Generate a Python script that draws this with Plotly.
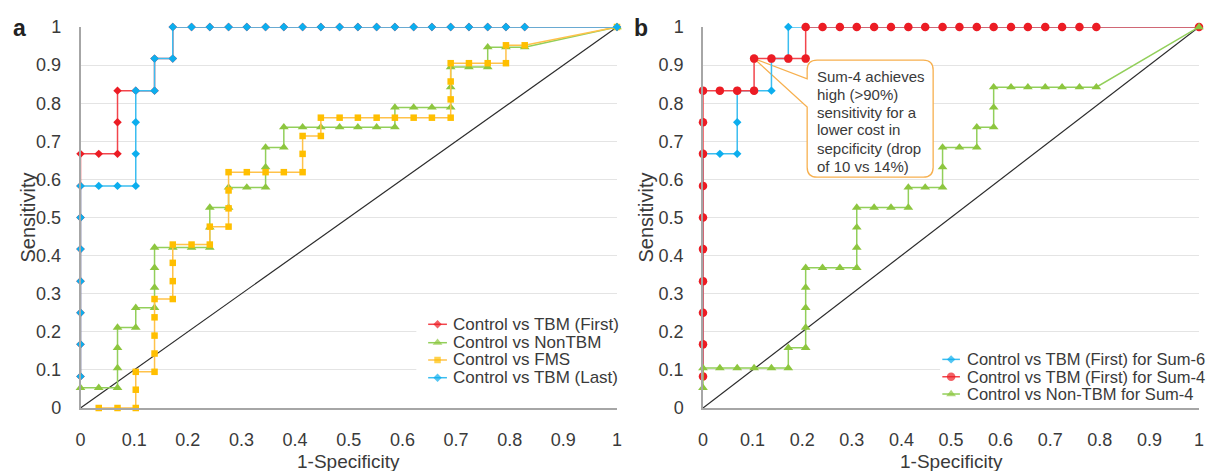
import plotly.graph_objects as go

# ---------------- Panel a: ROC curves (1-Specificity vs Sensitivity) ----------------
a_tbm_first_x = [0, 0, 0, 0, 0, 0, 0, 0, 0.034, 0.069, 0.069, 0.069, 0.103, 0.138, 0.138,
                 0.172, 0.172, 0.207, 0.241, 0.276, 0.310, 0.345, 0.379, 0.414, 0.448, 0.483,
                 0.517, 0.552, 0.586, 0.621, 0.655, 0.690, 0.724, 0.759, 0.793, 0.828, 1]
a_tbm_first_y = [0.083, 0.167, 0.25, 0.333, 0.417, 0.5, 0.583, 0.667, 0.667, 0.667, 0.75, 0.833,
                 0.833, 0.833, 0.917, 0.917, 1, 1, 1, 1, 1, 1, 1, 1, 1, 1,
                 1, 1, 1, 1, 1, 1, 1, 1, 1, 1, 1]

a_nontbm_x = [0, 0.034, 0.069, 0.069, 0.069, 0.069, 0.103, 0.103, 0.138, 0.138, 0.138, 0.138,
              0.172, 0.207, 0.241, 0.241, 0.241, 0.276, 0.276, 0.310, 0.345, 0.345, 0.345,
              0.379, 0.379, 0.414, 0.448, 0.483, 0.517, 0.552, 0.586, 0.586, 0.621, 0.655,
              0.690, 0.690, 0.690, 0.724, 0.759, 0.759, 0.793, 0.828, 1]
a_nontbm_y = [0.053, 0.053, 0.053, 0.105, 0.158, 0.211, 0.211, 0.263, 0.263, 0.316, 0.368, 0.421,
              0.421, 0.421, 0.421, 0.474, 0.526, 0.526, 0.579, 0.579, 0.579, 0.632, 0.684,
              0.684, 0.737, 0.737, 0.737, 0.737, 0.737, 0.737, 0.737, 0.789, 0.789, 0.789,
              0.789, 0.842, 0.895, 0.895, 0.895, 0.947, 0.947, 0.947, 1]

a_fms_x = [0.034, 0.069, 0.103, 0.103, 0.103, 0.138, 0.138, 0.138, 0.138, 0.138, 0.172, 0.172,
           0.172, 0.172, 0.207, 0.241, 0.241, 0.276, 0.276, 0.276, 0.276, 0.310, 0.345, 0.379,
           0.414, 0.414, 0.414, 0.448, 0.448, 0.483, 0.517, 0.552, 0.586, 0.621, 0.655, 0.690,
           0.690, 0.690, 0.690, 0.724, 0.759, 0.793, 0.793, 0.828, 1]
a_fms_y = [0, 0, 0, 0.048, 0.095, 0.095, 0.143, 0.190, 0.238, 0.286, 0.286, 0.333,
           0.381, 0.429, 0.429, 0.429, 0.476, 0.476, 0.524, 0.571, 0.619, 0.619, 0.619, 0.619,
           0.619, 0.667, 0.714, 0.714, 0.762, 0.762, 0.762, 0.762, 0.762, 0.762, 0.762, 0.762,
           0.810, 0.857, 0.905, 0.905, 0.905, 0.905, 0.952, 0.952, 1]

a_tbm_last_x = [0, 0, 0, 0, 0, 0, 0, 0.034, 0.069, 0.103, 0.103, 0.103, 0.103, 0.138, 0.138,
                0.172, 0.172, 0.207, 0.241, 0.276, 0.310, 0.345, 0.379, 0.414, 0.448, 0.483,
                0.517, 0.552, 0.586, 0.621, 0.655, 0.690, 0.724, 0.759, 0.793, 0.828, 1]
a_tbm_last_y = [0.083, 0.167, 0.25, 0.333, 0.417, 0.5, 0.583, 0.583, 0.583, 0.583, 0.667, 0.75,
                0.833, 0.833, 0.917, 0.917, 1, 1, 1, 1, 1, 1, 1, 1, 1, 1,
                1, 1, 1, 1, 1, 1, 1, 1, 1, 1, 1]

# ---------------- Panel b: Sum-6 vs Sum-4 ----------------
b_sum6_x = [0, 0, 0, 0, 0, 0, 0, 0, 0.034, 0.069, 0.069, 0.069, 0.103, 0.138, 0.138, 0.172,
            0.172, 0.207, 0.241, 0.276, 0.310, 0.345, 0.379, 0.414, 0.448, 0.483, 0.517,
            0.552, 0.586, 0.621, 0.655, 0.690, 0.724, 0.759, 0.793, 1]
b_sum6_y = [0.083, 0.167, 0.25, 0.333, 0.417, 0.5, 0.583, 0.667, 0.667, 0.667, 0.75, 0.833,
            0.833, 0.833, 0.917, 0.917, 1, 1, 1, 1, 1, 1, 1, 1, 1, 1, 1,
            1, 1, 1, 1, 1, 1, 1, 1, 1]

b_sum4_x = [0, 0, 0, 0, 0, 0, 0, 0, 0, 0, 0.034, 0.069, 0.103, 0.103, 0.138, 0.172, 0.207,
            0.207, 0.241, 0.276, 0.310, 0.345, 0.379, 0.414, 0.448, 0.483, 0.517, 0.552,
            0.586, 0.621, 0.655, 0.690, 0.724, 0.759, 0.793, 1]
b_sum4_y = [0.083, 0.167, 0.25, 0.333, 0.417, 0.5, 0.583, 0.667, 0.75, 0.833, 0.833, 0.833,
            0.833, 0.917, 0.917, 0.917, 0.917, 1, 1, 1, 1, 1, 1, 1, 1, 1, 1, 1,
            1, 1, 1, 1, 1, 1, 1, 1]

b_nontbm_x = [0, 0, 0.034, 0.069, 0.103, 0.138, 0.172, 0.172, 0.207, 0.207, 0.207, 0.207,
              0.207, 0.241, 0.276, 0.310, 0.310, 0.310, 0.310, 0.345, 0.379, 0.414, 0.414,
              0.448, 0.483, 0.483, 0.483, 0.517, 0.552, 0.552, 0.586, 0.586, 0.586, 0.621,
              0.655, 0.690, 0.724, 0.759, 0.793, 1]
b_nontbm_y = [0.053, 0.105, 0.105, 0.105, 0.105, 0.105, 0.105, 0.158, 0.158, 0.211, 0.263, 0.316,
              0.368, 0.368, 0.368, 0.368, 0.421, 0.474, 0.526, 0.526, 0.526, 0.526, 0.579,
              0.579, 0.579, 0.632, 0.684, 0.684, 0.684, 0.737, 0.737, 0.789, 0.842, 0.842,
              0.842, 0.842, 0.842, 0.842, 0.842, 1]

# chance line
ref_x = [0, 1]
ref_y = [0, 1]

tick_vals = [0, 0.1, 0.2, 0.3, 0.4, 0.5, 0.6, 0.7, 0.8, 0.9, 1]
tick_text = ["0", "0.1", "0.2", "0.3", "0.4", "0.5", "0.6", "0.7", "0.8", "0.9", "1"]

a_names = ["Control vs TBM (First)", "Control vs NonTBM", "Control vs FMS", "Control vs TBM (Last)"]
b_names = ["Control vs TBM (First) for Sum-6", "Control vs TBM (First) for Sum-4",
           "Control vs Non-TBM for Sum-4"]
callout_lines = ["Sum-4 achieves", "high (>90%)", "sensitivity for a", "lower cost in",
                 "sepcificity (drop", "of 10 vs 14%)"]

# ---------------- styling ----------------
W, H = 1213, 471
FONT = "Liberation Sans, Arial, sans-serif"
TXT = "#3a3a3a"

RED = dict(line="#F2454C", marker="#EC1C24")
GREEN = dict(line="#92CF5A", marker="#8DC63F")
ORANGE = dict(line="#FFC24A", marker="#FFBF00")
BLUE = dict(line="#3BBDF0", marker="#0CAEEE")

# plot-area placement in pixels
A_X0, A_X1 = 80.5, 617.0
B_X0, B_X1 = 703.0, 1199.0
Y_TOP, Y_BOT = 27.0, 408.0

fig = go.Figure()


def curve(x, y, c, symbol, size, xa, ya, lw=1.5):
    fig.add_trace(go.Scatter(
        x=x, y=y, mode="lines+markers", xaxis=xa, yaxis=ya, cliponaxis=False,
        showlegend=False, hoverinfo="skip",
        line=dict(color=c["line"], width=lw),
        marker=dict(color=c["marker"], symbol=symbol, size=size, line=dict(width=0)),
    ))


def chance(xa, ya):
    fig.add_trace(go.Scatter(x=ref_x, y=ref_y, mode="lines", xaxis=xa, yaxis=ya,
                             showlegend=False, hoverinfo="skip", cliponaxis=False,
                             line=dict(color="#2b2b2b", width=1.2)))


# panel a
chance("x", "y")
curve(a_tbm_first_x, a_tbm_first_y, RED, "diamond", 6.5, "x", "y")
curve(a_nontbm_x, a_nontbm_y, GREEN, "triangle-up", 8.5, "x", "y")
curve(a_fms_x, a_fms_y, ORANGE, "square", 6.5, "x", "y")
curve(a_tbm_last_x, a_tbm_last_y, BLUE, "diamond", 6.5, "x", "y")

# panel b
chance("x2", "y2")
curve(b_sum6_x, b_sum6_y, BLUE, "diamond", 6.5, "x2", "y2")
curve(b_sum4_x, b_sum4_y, RED, "circle", 8.5, "x2", "y2")
curve(b_nontbm_x, b_nontbm_y, GREEN, "triangle-up", 8.5, "x2", "y2")


# in-plot legends: short line + marker sample followed by a label
def legend_entry(xa, ya, x0, x1, yv, c, symbol, size, label, tx, fs):
    fig.add_trace(go.Scatter(
        x=[x0, (x0 + x1) / 2, x1], y=[yv, yv, yv], mode="lines+markers",
        xaxis=xa, yaxis=ya, cliponaxis=False, showlegend=False, hoverinfo="skip",
        line=dict(color=c["line"], width=1.5),
        marker=dict(color=c["marker"], symbol=symbol, size=[0, size, 0], line=dict(width=0)),
    ))
    fig.add_annotation(x=tx, y=yv, xref=xa, yref=ya, text=label,
                       showarrow=False, xanchor="left", yanchor="middle",
                       font=dict(family=FONT, size=fs, color=TXT))


a_rows = [0.2197, 0.1714, 0.126, 0.0795]
a_sty = [(RED, "diamond", 6.5), (GREEN, "triangle-up", 8.5), (ORANGE, "square", 6.5),
         (BLUE, "diamond", 6.5)]
for yv, (c, s, sz), name in zip(a_rows, a_sty, a_names):
    legend_entry("x", "y", 0.648, 0.683, yv, c, s, sz, name, 0.690, 17)

b_rows = [0.1276, 0.082, 0.0367]
b_sty = [(BLUE, "diamond", 6.5), (RED, "circle", 8.5), (GREEN, "triangle-up", 8.5)]
for yv, (c, s, sz), name in zip(b_rows, b_sty, b_names):
    legend_entry("x2", "y2", 0.4825, 0.518, yv, c, s, sz, name, 0.529, 16.5)

shapes = [
    # white backing behind the legends (hides gridlines)
    dict(type="rect", xref="x", yref="y", x0=0.626, x1=1.0, y0=0.03, y1=0.27,
         fillcolor="white", line=dict(width=0), layer="between"),
    dict(type="rect", xref="x2", yref="y2", x0=0.478, x1=1.0, y0=0.015, y1=0.165,
         fillcolor="white", line=dict(width=0), layer="between"),
]

# callout box with a wedge pointing at the Sum-4 point (0.103, 0.917)
tip_x, tip_y = b_sum4_x[13], b_sum4_y[13]
bx0, bx1, by0, by1 = 0.210, 0.464, 0.606, 0.913
rx, ry = 0.02, 0.026
w_hi, w_lo = 0.864, 0.790
path = (f"M {bx0 + rx},{by1} L {bx1 - rx},{by1} Q {bx1},{by1} {bx1},{by1 - ry} "
        f"L {bx1},{by0 + ry} Q {bx1},{by0} {bx1 - rx},{by0} "
        f"L {bx0 + rx},{by0} Q {bx0},{by0} {bx0},{by0 + ry} "
        f"L {bx0},{w_lo} L {tip_x},{tip_y} L {bx0},{w_hi} "
        f"L {bx0},{by1 - ry} Q {bx0},{by1} {bx0 + rx},{by1} Z")
shapes.append(dict(type="path", xref="x2", yref="y2", path=path, fillcolor="white",
                   line=dict(color="#F7B04F", width=1.3), layer="between"))

line_y = [0.871, 0.824, 0.776, 0.730, 0.682, 0.635]
for t, yv in zip(callout_lines, line_y):
    fig.add_annotation(x=0.225, y=yv, xref="x2", yref="y2", text=t, showarrow=False,
                       xanchor="left", yanchor="middle",
                       font=dict(family=FONT, size=15, color=TXT))

# axis titles and panel letters
for cx in ((A_X0 + A_X1) / 2, (B_X0 + B_X1) / 2):
    fig.add_annotation(x=cx / W, y=1 - 461 / H, xref="paper", yref="paper",
                       text="1-Specificity", showarrow=False, xanchor="center",
                       yanchor="middle", font=dict(family=FONT, size=19, color=TXT))
for cx in (27, 645):
    fig.add_annotation(x=cx / W, y=1 - 217.5 / H, xref="paper", yref="paper",
                       text="Sensitivity", textangle=-90, showarrow=False,
                       xanchor="center", yanchor="middle",
                       font=dict(family=FONT, size=20, color=TXT))
for lx, lab in ((19, "a"), (641, "b")):
    fig.add_annotation(x=lx / W, y=1 - 28 / H, xref="paper", yref="paper",
                       text=f"<b>{lab}</b>", showarrow=False, xanchor="center",
                       yanchor="middle", font=dict(family=FONT, size=23, color="#222"))

tick_font = dict(family=FONT, size=18, color=TXT)
xbase = dict(range=[0, 1], tickvals=tick_vals, ticktext=tick_text, showgrid=False,
             zeroline=False, showline=True, linecolor="#A6A6A6", linewidth=1.5,
             ticks="", tickfont=tick_font, ticklabelstandoff=15, automargin=False,
             fixedrange=True)
ybase = dict(range=[0, 1], tickvals=tick_vals, ticktext=tick_text, showgrid=True,
             gridcolor="#E4E4E4", gridwidth=1, zeroline=False, showline=True,
             linecolor="#A6A6A6", linewidth=1.5, ticks="", tickfont=tick_font,
             ticklabelstandoff=14, automargin=False, fixedrange=True)
ydom = [1 - Y_BOT / H, 1 - Y_TOP / H]

fig.update_layout(
    width=W, height=H,
    margin=dict(l=0, r=0, t=0, b=0),
    paper_bgcolor="white", plot_bgcolor="rgba(0,0,0,0)",
    showlegend=False,
    xaxis=dict(xbase, domain=[A_X0 / W, A_X1 / W], anchor="y"),
    yaxis=dict(ybase, domain=ydom, anchor="x"),
    xaxis2=dict(xbase, domain=[B_X0 / W, B_X1 / W], anchor="y2"),
    yaxis2=dict(ybase, domain=ydom, anchor="x2"),
    shapes=shapes,
)

fig.write_html("out.html")
